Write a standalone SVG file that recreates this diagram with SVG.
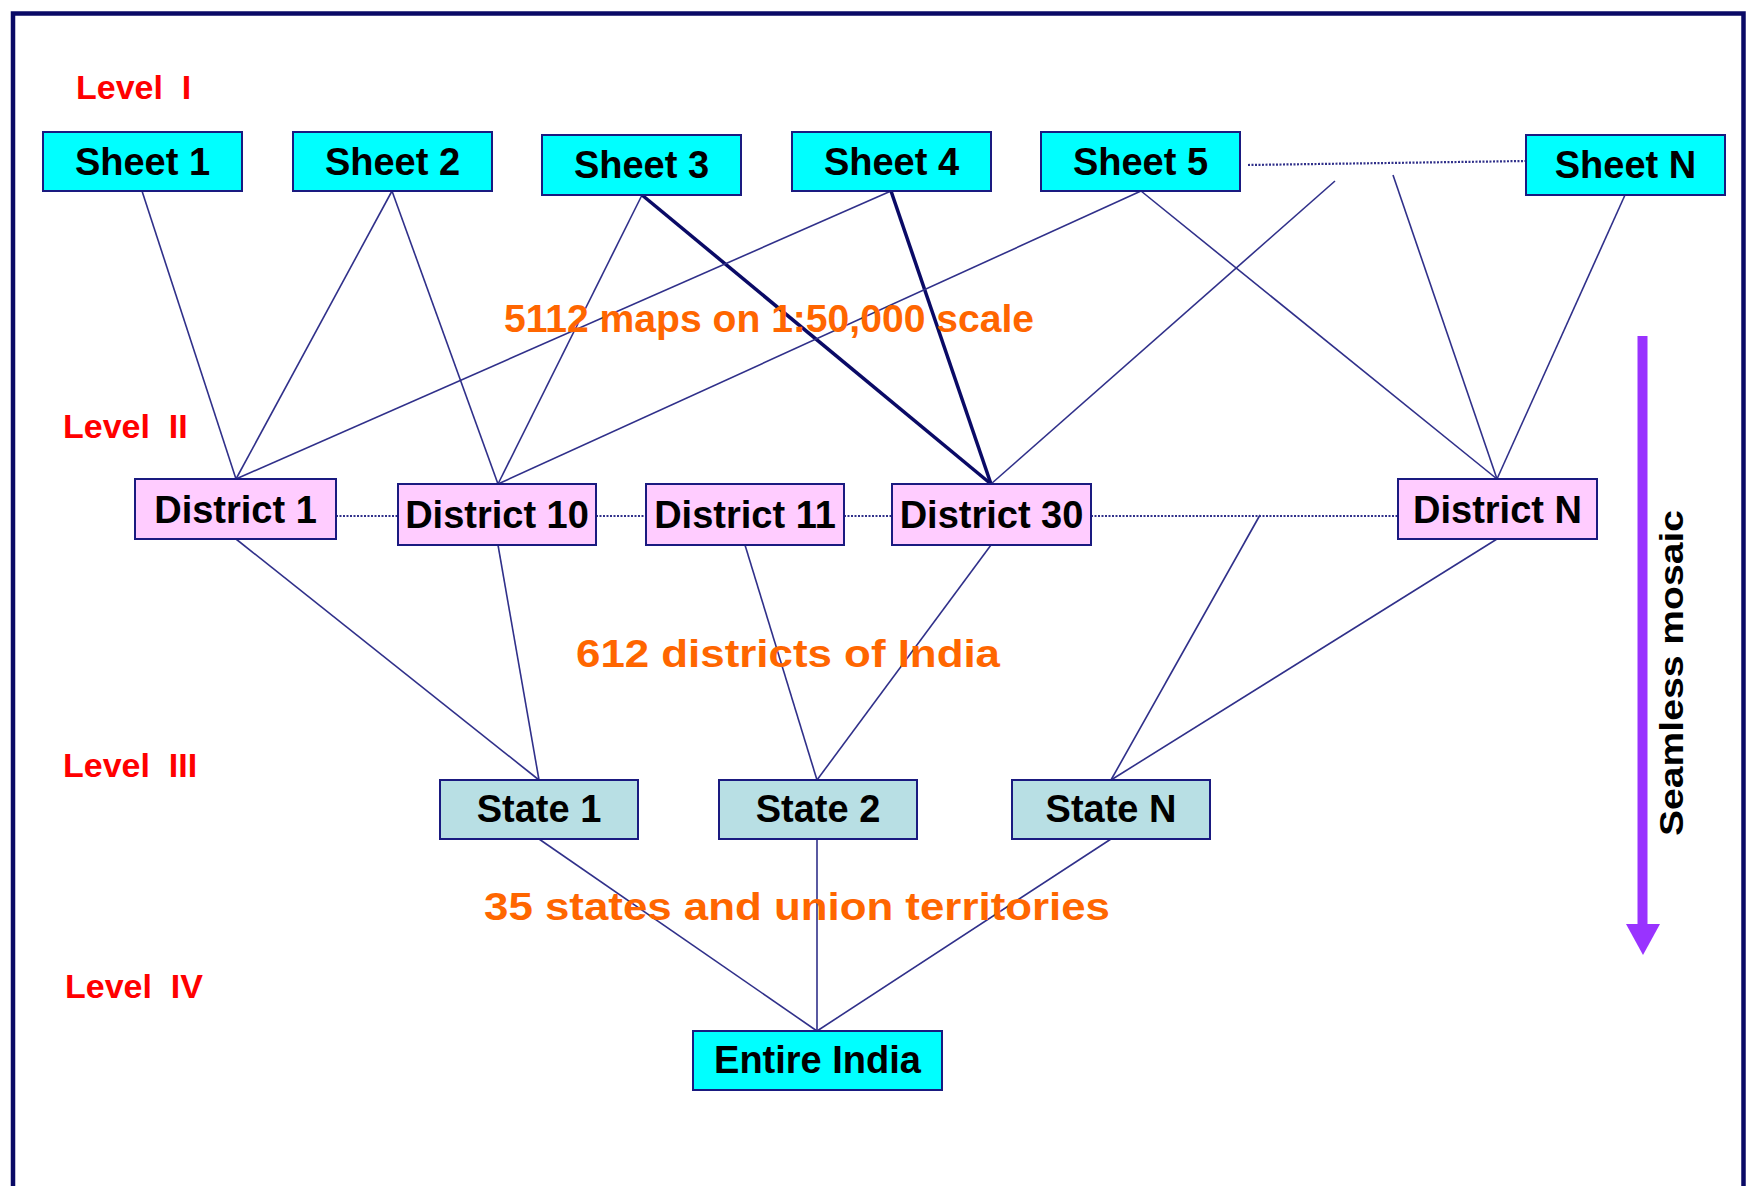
<svg xmlns="http://www.w3.org/2000/svg" width="1754" height="1186" viewBox="0 0 1754 1186">
<style>
.box{stroke:#1a1a80;stroke-width:2}
.sheet{fill:#00FFFF}
.dist{fill:#FFCCFF}
.state{fill:#B8DFE4}
.lbl{font-family:"Liberation Sans",Arial,sans-serif;font-weight:bold;font-size:38px;fill:#000;text-anchor:middle}
.lvl{font-family:"Liberation Sans",Arial,sans-serif;font-weight:bold;font-size:34px;fill:#FF0000}
.note{font-family:"Liberation Sans",Arial,sans-serif;font-weight:bold;font-size:38px;fill:#FF6600}
.thin{stroke:#30308a;stroke-width:1.6;fill:none}
.thick{stroke:#0a0a66;stroke-width:3.5;fill:none}
.dot{stroke:#30308a;stroke-width:2.2;stroke-dasharray:2 1.5;fill:none}
</style>
<rect x="13" y="13.5" width="1730.5" height="1200" fill="#FFFFFF" stroke="#0a0a66" stroke-width="4.5"/>

<g id="level-labels">
<text class="lvl" x="76" y="99" xml:space="preserve">Level  I</text>
<text class="lvl" x="63" y="438" xml:space="preserve">Level  II</text>
<text class="lvl" x="63" y="777" xml:space="preserve">Level  III</text>
<text class="lvl" x="65" y="998" xml:space="preserve">Level  IV</text>
</g>

<g id="connectors">
<line class="thin" x1="142" y1="191" x2="236" y2="479"/>
<line class="thin" x1="392" y1="191" x2="236" y2="479"/>
<line class="thin" x1="392" y1="191" x2="498" y2="484"/>
<line class="thin" x1="642" y1="195" x2="498" y2="484"/>
<line class="thick" x1="642" y1="195" x2="991" y2="484"/>
<line class="thin" x1="891" y1="191" x2="236" y2="479"/>
<line class="thick" x1="891" y1="191" x2="991" y2="484"/>
<line class="thin" x1="1141" y1="191" x2="498" y2="484"/>
<line class="thin" x1="1141" y1="191" x2="1497" y2="479"/>
<line class="thin" x1="1335" y1="181" x2="991" y2="484"/>
<line class="thin" x1="1393" y1="175" x2="1497" y2="479"/>
<line class="thin" x1="1625" y1="195" x2="1497" y2="479"/>
<line class="thin" x1="236" y1="539" x2="539" y2="780"/>
<line class="thin" x1="498" y1="545" x2="539" y2="780"/>
<line class="thin" x1="745" y1="545" x2="817" y2="780"/>
<line class="thin" x1="991" y1="545" x2="817" y2="780"/>
<line class="thin" x1="1260" y1="515" x2="1111" y2="780"/>
<line class="thin" x1="1497" y1="539" x2="1111" y2="780"/>
<line class="thin" x1="539" y1="839" x2="817" y2="1031"/>
<line class="thin" x1="817" y1="839" x2="817" y2="1031"/>
<line class="thin" x1="1111" y1="839" x2="817" y2="1031"/>
<line class="dot" x1="1248" y1="165" x2="1526" y2="161"/>
<line class="dot" x1="336" y1="516" x2="398" y2="516"/>
<line class="dot" x1="596" y1="516" x2="646" y2="516"/>
<line class="dot" x1="844" y1="516" x2="892" y2="516"/>
<line class="dot" x1="1091" y1="516" x2="1398" y2="516"/>
</g>

<g id="sheet1"><rect class="box sheet" x="43" y="132" width="199" height="59"/><text class="lbl" x="142.5" y="175">Sheet 1</text></g>
<g id="sheet2"><rect class="box sheet" x="293" y="132" width="199" height="59"/><text class="lbl" x="392.5" y="175">Sheet 2</text></g>
<g id="sheet3"><rect class="box sheet" x="542" y="135" width="199" height="60"/><text class="lbl" x="641.5" y="178">Sheet 3</text></g>
<g id="sheet4"><rect class="box sheet" x="792" y="132" width="199" height="59"/><text class="lbl" x="891.5" y="175">Sheet 4</text></g>
<g id="sheet5"><rect class="box sheet" x="1041" y="132" width="199" height="59"/><text class="lbl" x="1140.5" y="175">Sheet 5</text></g>
<g id="sheetN"><rect class="box sheet" x="1526" y="135" width="199" height="60"/><text class="lbl" x="1625.5" y="178">Sheet N</text></g>

<g id="district1"><rect class="box dist" x="135" y="479" width="201" height="60"/><text class="lbl" x="235.5" y="523">District 1</text></g>
<g id="district10"><rect class="box dist" x="398" y="484" width="198" height="61"/><text class="lbl" x="497" y="528">District 10</text></g>
<g id="district11"><rect class="box dist" x="646" y="484" width="198" height="61"/><text class="lbl" x="745" y="528">District 11</text></g>
<g id="district30"><rect class="box dist" x="892" y="484" width="199" height="61"/><text class="lbl" x="991.5" y="528">District 30</text></g>
<g id="districtN"><rect class="box dist" x="1398" y="479" width="199" height="60"/><text class="lbl" x="1497.5" y="523">District N</text></g>

<g id="state1"><rect class="box state" x="440" y="780" width="198" height="59"/><text class="lbl" x="539" y="822">State 1</text></g>
<g id="state2"><rect class="box state" x="719" y="780" width="198" height="59"/><text class="lbl" x="818" y="822">State 2</text></g>
<g id="stateN"><rect class="box state" x="1012" y="780" width="198" height="59"/><text class="lbl" x="1111" y="822">State N</text></g>

<g id="india"><rect class="box sheet" x="693" y="1031" width="249" height="59"/><text class="lbl" x="817.5" y="1073">Entire India</text></g>

<g id="notes">
<text class="note" x="504" y="332" textLength="530" lengthAdjust="spacingAndGlyphs">5112 maps on 1:50,000 scale</text>
<text class="note" x="576" y="667" textLength="424" lengthAdjust="spacingAndGlyphs">612 districts of India</text>
<text class="note" x="484" y="920" font-size="39.5" textLength="626" lengthAdjust="spacingAndGlyphs">35 states and union territories</text>
</g>

<g id="seamless-mosaic">
<line x1="1642.5" y1="336" x2="1642.5" y2="926" stroke="#9933FF" stroke-width="10"/>
<polygon points="1626,924 1660,924 1643,955" fill="#9933FF"/>
<text transform="translate(1683,673) rotate(-90)" x="0" y="0" font-family="'Liberation Sans',Arial,sans-serif" font-weight="bold" font-size="33" fill="#000" text-anchor="middle" textLength="326" lengthAdjust="spacingAndGlyphs">Seamless mosaic</text>
</g>
</svg>
